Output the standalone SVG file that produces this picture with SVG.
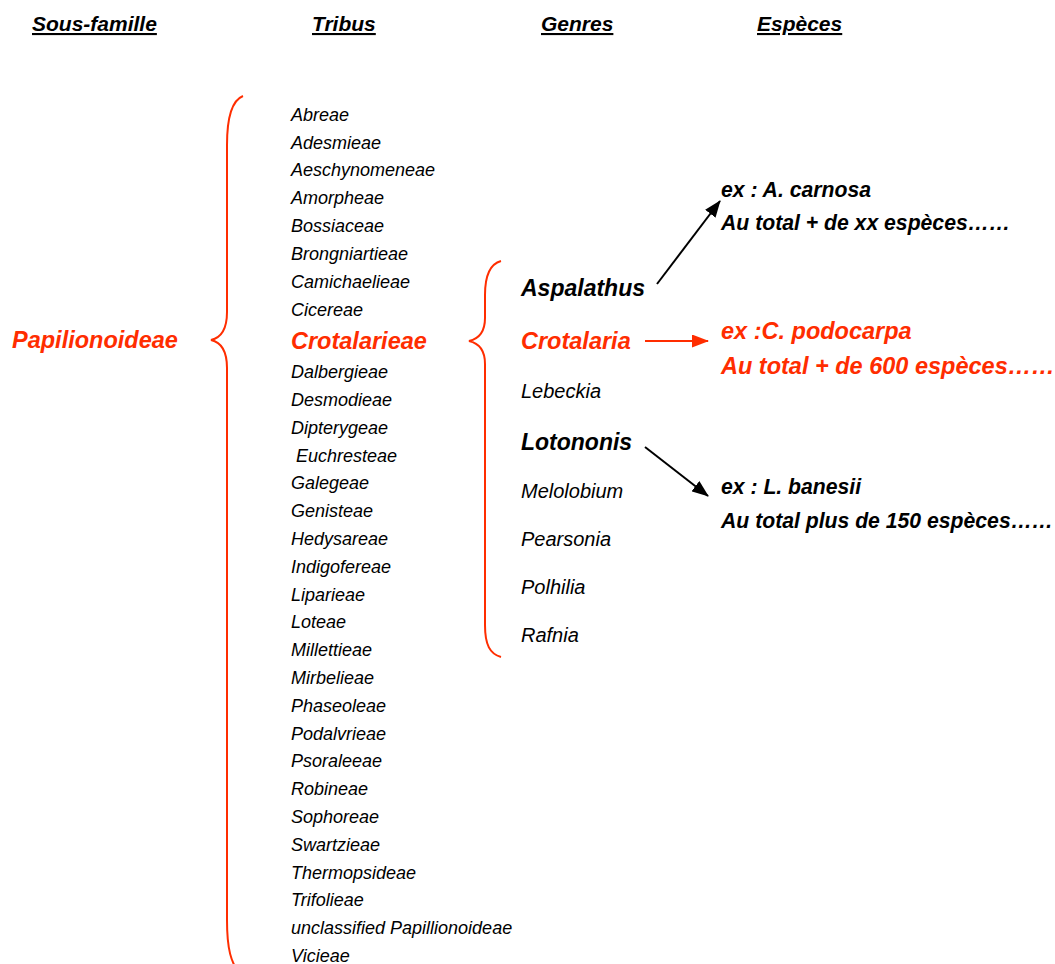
<svg xmlns="http://www.w3.org/2000/svg" width="1055" height="964" viewBox="0 0 1055 964">
<defs>
<style>
text{font-family:"Liberation Sans",Arial,sans-serif;font-style:italic;}
.hd{font-size:21px;font-weight:bold;fill:#000;text-decoration:underline;}
.tr{font-size:18px;fill:#000;}
.gn{font-size:20px;fill:#000;}
.gb{font-size:23px;font-weight:bold;fill:#000;}
.red{fill:#ff2d00;}
.big{font-size:23.5px;font-weight:bold;}
.sp{font-size:21.2px;font-weight:bold;fill:#000;}
.spr{font-size:23.5px;font-weight:bold;fill:#ff2d00;}
.brace{fill:none;stroke:#ff2d00;stroke-width:2;}
.ar{stroke:#000;stroke-width:2;fill:none;}
.arr{stroke:#ff2d00;stroke-width:2;fill:none;}
</style>
<marker id="mk" markerUnits="userSpaceOnUse" markerWidth="17" markerHeight="13" refX="16" refY="6.5" orient="auto"><path d="M0,0 L17,6.5 L0,13 Z" fill="#000"/></marker>
<marker id="mkr" markerUnits="userSpaceOnUse" markerWidth="17" markerHeight="13" refX="16" refY="6.5" orient="auto"><path d="M0,0 L17,6.5 L0,13 Z" fill="#ff2d00"/></marker>
</defs>
<g id="headers">
<text class="hd" x="32" y="31">Sous-famille</text>
<text class="hd" x="312" y="31">Tribus</text>
<text class="hd" x="541" y="31">Genres</text>
<text class="hd" x="757" y="31">Espèces</text>
</g>
<g id="subfamily">
<text class="big red" x="12" y="348">Papilionoideae</text>
</g>
<g id="brace-tribes"><path class="brace" d="M243 96 C233 100,227 115,227 145 L227 312 C227 330,220 338,211 340 C220 342,227 350,227 368 L227 920 C227 950,231 962,240 975"/></g>
<g id="tribes">
<text class="tr" x="291" y="120.7">Abreae</text>
<text class="tr" x="291" y="148.5">Adesmieae</text>
<text class="tr" x="291" y="176.4">Aeschynomeneae</text>
<text class="tr" x="291" y="204.3">Amorpheae</text>
<text class="tr" x="291" y="232.2">Bossiaceae</text>
<text class="tr" x="291" y="260">Brongniartieae</text>
<text class="tr" x="291" y="287.9">Camichaelieae</text>
<text class="tr" x="291" y="315.8">Cicereae</text>
<text class="big red" x="291" y="349.3">Crotalarieae</text>
<text class="tr" x="291" y="378.2">Dalbergieae</text>
<text class="tr" x="291" y="406">Desmodieae</text>
<text class="tr" x="291" y="433.8">Dipterygeae</text>
<text class="tr" x="291" y="461.6" xml:space="preserve"> Euchresteae</text>
<text class="tr" x="291" y="489.4">Galegeae</text>
<text class="tr" x="291" y="517.2">Genisteae</text>
<text class="tr" x="291" y="545">Hedysareae</text>
<text class="tr" x="291" y="572.8">Indigofereae</text>
<text class="tr" x="291" y="600.6">Liparieae</text>
<text class="tr" x="291" y="628.4">Loteae</text>
<text class="tr" x="291" y="656.2">Millettieae</text>
<text class="tr" x="291" y="684">Mirbelieae</text>
<text class="tr" x="291" y="711.8">Phaseoleae</text>
<text class="tr" x="291" y="739.6">Podalvrieae</text>
<text class="tr" x="291" y="767.4">Psoraleeae</text>
<text class="tr" x="291" y="795.2">Robineae</text>
<text class="tr" x="291" y="823">Sophoreae</text>
<text class="tr" x="291" y="850.8">Swartzieae</text>
<text class="tr" x="291" y="878.6">Thermopsideae</text>
<text class="tr" x="291" y="906.4">Trifolieae</text>
<text class="tr" x="291" y="934.2">unclassified Papillionoideae</text>
<text class="tr" x="291" y="962">Vicieae</text>
</g>
<g id="brace-genres"><path class="brace" d="M501 261 C490 264,485 275,485 295 L485 318 C485 332,478 339,469 341 C478 343,485 350,485 364 L485 625 C485 645,490 654,501 657"/></g>
<g id="genres">
<text class="gb" x="521" y="295.5">Aspalathus</text>
<text class="big red" x="521" y="349">Crotalaria</text>
<text class="gn" x="521" y="397.5">Lebeckia</text>
<text class="gb" x="521" y="449.5">Lotononis</text>
<text class="gn" x="521" y="498">Melolobium</text>
<text class="gn" x="521" y="546">Pearsonia</text>
<text class="gn" x="521" y="594">Polhilia</text>
<text class="gn" x="521" y="641.5">Rafnia</text>
</g>
<g id="species-aspalathus">
<text class="sp" x="721" y="196.5">ex : A. carnosa</text>
<text class="sp" x="721" y="230">Au total + de xx espèces……</text>
</g>
<g id="species-crotalaria">
<text class="spr" x="721" y="339">ex :C. podocarpa</text>
<text class="spr" x="721" y="374">Au total + de 600 espèces……</text>
</g>
<g id="species-lotononis">
<text class="sp" x="721" y="493.5">ex : L. banesii</text>
<text class="sp" x="721" y="527.5">Au total plus de 150 espèces……</text>
</g>
<g id="connectors">
<line class="ar" x1="657" y1="284" x2="720" y2="201" marker-end="url(#mk)"/>
<line class="arr" x1="645" y1="341" x2="708" y2="341" marker-end="url(#mkr)"/>
<line class="ar" x1="645" y1="447" x2="708" y2="496" marker-end="url(#mk)"/>
</g>
</svg>
